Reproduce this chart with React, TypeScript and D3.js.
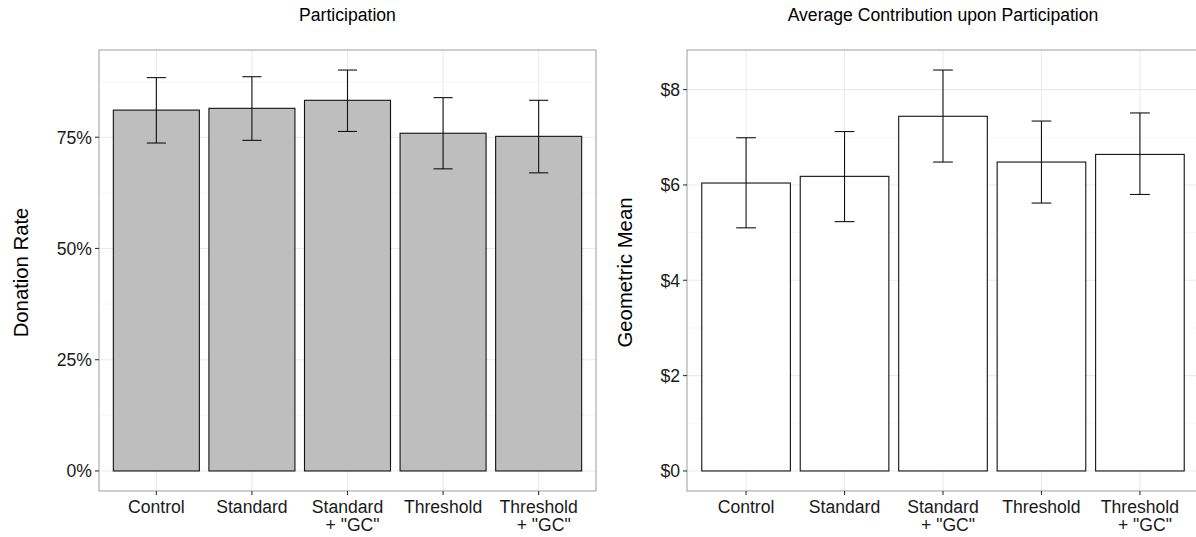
import React from "react";
import * as d3 from "d3";

const categories = ["Control", "Standard", "Standard\n+ \"GC\"", "Threshold", "Threshold\n+ \"GC\""];
const rateMean = [81.1, 81.5, 83.3, 75.9, 75.2];
const rateLow = [73.7, 74.3, 76.3, 67.9, 67.0];
const rateHigh = [88.4, 88.6, 90.1, 83.9, 83.3];
const geoMean = [6.04, 6.18, 7.44, 6.48, 6.64];
const geoLow = [5.1, 5.23, 6.48, 5.62, 5.8];
const geoHigh = [6.99, 7.12, 8.41, 7.34, 7.51];
const rateTicks = [0, 25, 50, 75];
const geoTicks = [0, 2, 4, 6, 8];

const W = 1196;
const H = 537;
const FONT = "'Liberation Sans', Arial, sans-serif";
const FS = 17.6;

type PanelProps = {
  x0: number;
  x1: number;
  title: string;
  yTitle: string;
  yTitleX: number;
  mean: number[];
  low: number[];
  high: number[];
  ticks: number[];
  fmt: (v: number) => string;
  fill: string;
};

function Panel(p: PanelProps) {
  const top = 50;
  const bottom = 491;
  const maxV = d3.max(p.high)!;
  const pad = maxV * 0.05;
  const y = d3.scaleLinear().domain([-pad, maxV + pad]).range([bottom, top]);
  // ggplot discrete axis: category i at position i+1, expanded by 0.6 on each side
  const x = d3.scaleLinear().domain([0.4, categories.length + 0.6]).range([p.x0, p.x1]);
  const cx = (i: number) => x(i + 1);
  const unit = x(1) - x(0);
  const bw = unit * 0.9;
  const cap = unit * 0.1;
  const minor = p.ticks.slice(0, -1).map((t, i) => (t + p.ticks[i + 1]) / 2);
  const last = p.ticks[p.ticks.length - 1];
  const step = p.ticks[1] - p.ticks[0];
  if (last + step / 2 <= maxV + pad) minor.push(last + step / 2);
  return (
    <g>
      <text x={(p.x0 + p.x1) / 2} y={21} textAnchor="middle" fontSize={FS} fill="#000">
        {p.title}
      </text>
      <rect x={p.x0} y={top} width={p.x1 - p.x0} height={bottom - top} fill="#fff" />
      {minor.map((t) => (
        <line key={"mi" + t} x1={p.x0} x2={p.x1} y1={y(t)} y2={y(t)} stroke="#f2f2f2" strokeWidth={0.6} />
      ))}
      {p.ticks.map((t) => (
        <line key={"ma" + t} x1={p.x0} x2={p.x1} y1={y(t)} y2={y(t)} stroke="#ebebeb" strokeWidth={1.1} />
      ))}
      {categories.map((c, i) => (
        <line key={"vg" + i} x1={cx(i)} x2={cx(i)} y1={top} y2={bottom} stroke="#ebebeb" strokeWidth={1.1} />
      ))}
      {p.mean.map((m, i) => (
        <rect
          key={"b" + i}
          x={cx(i) - bw / 2}
          y={y(m)}
          width={bw}
          height={y(0) - y(m)}
          fill={p.fill}
          stroke="#111"
          strokeWidth={1.1}
        />
      ))}
      {p.mean.map((_, i) => (
        <g key={"e" + i} stroke="#111" strokeWidth={1.1}>
          <line x1={cx(i)} x2={cx(i)} y1={y(p.low[i])} y2={y(p.high[i])} />
          <line x1={cx(i) - cap} x2={cx(i) + cap} y1={y(p.low[i])} y2={y(p.low[i])} />
          <line x1={cx(i) - cap} x2={cx(i) + cap} y1={y(p.high[i])} y2={y(p.high[i])} />
        </g>
      ))}
      <rect x={p.x0} y={top} width={p.x1 - p.x0} height={bottom - top} fill="none" stroke="#a6a6a6" strokeWidth={1.1} />
      {p.ticks.map((t) => (
        <g key={"yt" + t}>
          <line x1={p.x0 - 4} x2={p.x0} y1={y(t)} y2={y(t)} stroke="#333" strokeWidth={1.1} />
          <text x={p.x0 - 7} y={y(t)} dy="0.36em" textAnchor="end" fontSize={FS} fill="#1a1a1a">
            {p.fmt(t)}
          </text>
        </g>
      ))}
      {categories.map((c, i) => (
        <g key={"xt" + i}>
          <line x1={cx(i)} x2={cx(i)} y1={bottom} y2={bottom + 4} stroke="#333" strokeWidth={1.1} />
          <text x={cx(i)} y={512.5} textAnchor="middle" fontSize={FS} fill="#1a1a1a">
            {c.split("\n").map((ln, k) => (
              <tspan key={k} x={cx(i) + (k === 0 ? 0 : 5)} dy={k === 0 ? 0 : 18.5}>
                {ln}
              </tspan>
            ))}
          </text>
        </g>
      ))}
      <text
        transform={`translate(${p.yTitleX},${(top + bottom) / 2 + 2}) rotate(-90)`}
        textAnchor="middle"
        fontSize={20.3}
        fill="#000"
      >
        {p.yTitle}
      </text>
    </g>
  );
}

export default function App() {
  return (
    <div style={{ position: "fixed", left: 0, top: 0 }}>
      <svg width={W} height={H} style={{ display: "block", fontFamily: FONT, background: "#fff" }}>
        <rect width={W} height={H} fill="#fff" />
        <Panel
          x0={99}
          x1={596}
          title="Participation"
          yTitle="Donation Rate"
          yTitleX={28}
          mean={rateMean}
          low={rateLow}
          high={rateHigh}
          ticks={rateTicks}
          fmt={(v) => `${v}%`}
          fill="#bebebe"
        />
        <Panel
          x0={687}
          x1={1199}
          title="Average Contribution upon Participation"
          yTitle="Geometric Mean"
          yTitleX={632}
          mean={geoMean}
          low={geoLow}
          high={geoHigh}
          ticks={geoTicks}
          fmt={(v) => `$${v}`}
          fill="#ffffff"
        />
      </svg>
    </div>
  );
}
